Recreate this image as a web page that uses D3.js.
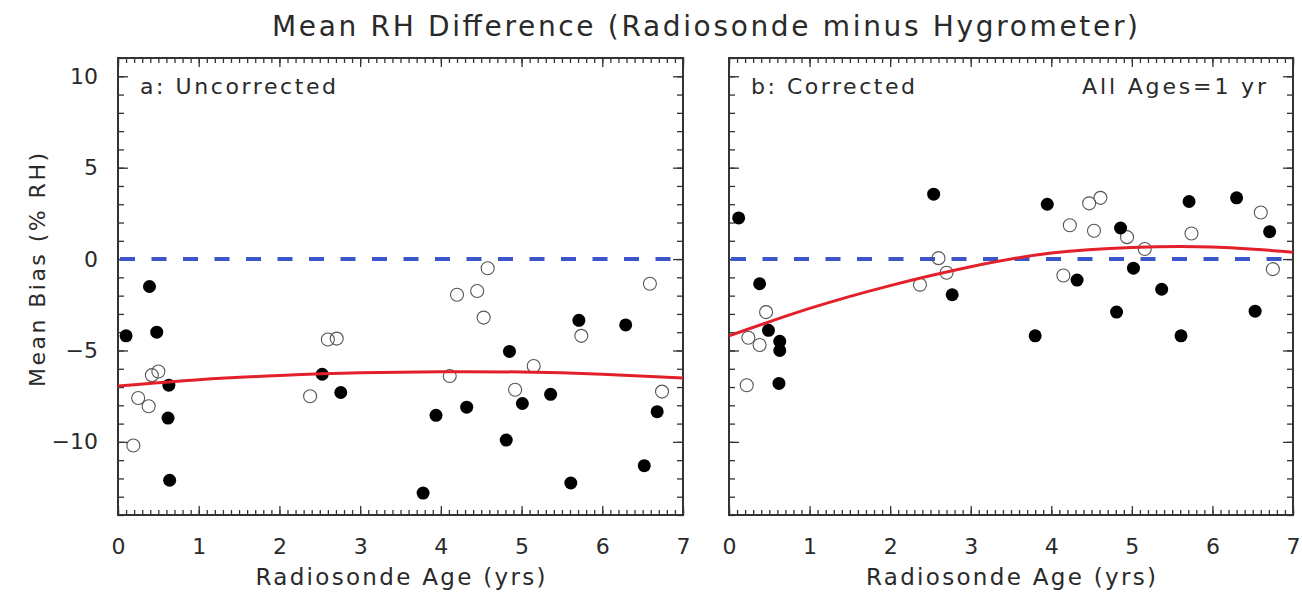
<!DOCTYPE html>
<html>
<head>
<meta charset="utf-8">
<script src="https://cdn.jsdelivr.net/npm/d3@7"></script>
<style>
  body { margin: 0; background: #fff; }
  svg text { font-family: "DejaVu Sans", sans-serif; fill: #2a2a2a; }
</style>
</head>
<body>
<svg id="chart" width="1302" height="594"></svg>
<script>
// tick labels
const ageTicks = [0, 1, 2, 3, 4, 5, 6, 7];
const biasTicks = [-10, -5, 0, 5, 10];

// panel a: uncorrected, filled symbols
const rawFilledAge  = [0.10, 0.39, 0.48, 0.63, 0.62, 0.64, 2.53, 2.76, 3.78, 3.94, 4.32, 4.81, 4.85, 5.01, 5.36, 5.61, 5.71, 6.29, 6.52, 6.68];
const rawFilledBias = [-4.2, -1.5, -4.0, -6.9, -8.7, -12.1, -6.3, -7.3, -12.8, -8.55, -8.1, -9.9, -5.05, -7.9, -7.4, -12.25, -3.35, -3.6, -11.3, -8.35];
// panel a: uncorrected, open symbols
const rawOpenAge  = [0.19, 0.25, 0.38, 0.42, 0.50, 2.38, 2.60, 2.71, 4.11, 4.20, 4.45, 4.53, 4.58, 4.92, 5.15, 5.74, 6.59, 6.74];
const rawOpenBias = [-10.2, -7.6, -8.05, -6.35, -6.15, -7.5, -4.4, -4.35, -6.4, -1.95, -1.75, -3.2, -0.5, -7.15, -5.85, -4.2, -1.35, -7.25];

// panel b: corrected, filled symbols
const corrFilledAge  = [0.12, 0.38, 0.49, 0.63, 0.63, 0.62, 2.54, 2.77, 3.80, 3.95, 4.32, 4.81, 4.86, 5.02, 5.37, 5.61, 5.71, 6.30, 6.53, 6.71];
const corrFilledBias = [2.25, -1.35, -3.9, -4.5, -5.0, -6.8, 3.55, -1.95, -4.2, 3.0, -1.15, -2.9, 1.7, -0.5, -1.65, -4.2, 3.15, 3.35, -2.85, 1.5];
// panel b: corrected, open symbols
const corrOpenAge  = [0.22, 0.24, 0.38, 0.46, 2.37, 2.60, 2.70, 4.15, 4.23, 4.47, 4.61, 4.53, 4.94, 5.16, 5.74, 6.60, 6.75];
const corrOpenBias = [-6.9, -4.3, -4.7, -2.9, -1.4, 0.05, -0.75, -0.9, 1.85, 3.05, 3.35, 1.55, 1.2, 0.55, 1.4, 2.55, -0.55];

// fitted curves
const fitAge  = [0, 1, 2, 3, 4, 5, 6, 7];
const rawFit  = [-6.95, -6.6, -6.37, -6.22, -6.16, -6.18, -6.3, -6.5];
const corrFit = [-4.2, -2.7, -1.45, -0.42, 0.33, 0.64, 0.66, 0.38];

const svg = d3.select('#chart');

const y = d3.scaleLinear().domain([-14, 11]).range([515, 58]);

const panels = [
    {x0: 118, x1: 683, label: 'a: Uncorrected', labelLen: 196, yLabels: true,
     filled: rawFilledAge.map((a, i) => [a, rawFilledBias[i]]),
     open: rawOpenAge.map((a, i) => [a, rawOpenBias[i]]),
     fit: fitAge.map((a, i) => [a, rawFit[i]])},
    {x0: 729, x1: 1293, label: 'b: Corrected', labelLen: 164, yLabels: false,
     filled: corrFilledAge.map((a, i) => [a, corrFilledBias[i]]),
     open: corrOpenAge.map((a, i) => [a, corrOpenBias[i]]),
     fit: fitAge.map((a, i) => [a, corrFit[i]])}
];

const minorX = d3.range(0, 70.5, 1).map(d => d / 10);
const minorY = d3.range(-14, 11.5, 1);

panels.forEach(p => {
    const x = d3.scaleLinear().domain([0, 7]).range([p.x0, p.x1]);
    const g = svg.append('g');
    const bottom = y.range()[0], top = y.range()[1];

    const tickStyle = sel => sel.call(s => s.select('.domain').remove())
        .call(s => s.selectAll('line').attr('stroke', '#333').attr('stroke-width', 1.3));

    // minor ticks all round
    g.append('g').attr('transform', `translate(0,${bottom})`)
        .call(d3.axisBottom(x).tickValues(minorX).tickSize(-5).tickFormat(''))
        .call(tickStyle);
    g.append('g').attr('transform', `translate(0,${top})`)
        .call(d3.axisTop(x).tickValues(minorX).tickSize(-5).tickFormat(''))
        .call(tickStyle);
    g.append('g').attr('transform', `translate(${p.x0},0)`)
        .call(d3.axisLeft(y).tickValues(minorY).tickSize(-6).tickFormat(''))
        .call(tickStyle);
    g.append('g').attr('transform', `translate(${p.x1},0)`)
        .call(d3.axisRight(y).tickValues(minorY).tickSize(-6).tickFormat(''))
        .call(tickStyle);

    // major ticks + labels
    const xb = g.append('g').attr('transform', `translate(0,${bottom})`)
        .call(d3.axisBottom(x).tickValues(ageTicks).tickSize(-9).tickPadding(23).tickFormat(d3.format('d')))
        .call(tickStyle);
    xb.selectAll('text').attr('font-size', 22).attr('fill', '#333');
    g.append('g').attr('transform', `translate(0,${top})`)
        .call(d3.axisTop(x).tickValues(ageTicks).tickSize(-9).tickFormat(''))
        .call(tickStyle);
    const yl = g.append('g').attr('transform', `translate(${p.x0},0)`)
        .call(d3.axisLeft(y).tickValues(biasTicks).tickSize(-10).tickPadding(20)
            .tickFormat(p.yLabels ? (d => d < 0 ? '\u2212' + Math.abs(d) : d) : ''))
        .call(tickStyle);
    yl.selectAll('text').attr('font-size', 22).attr('fill', '#333');
    g.append('g').attr('transform', `translate(${p.x1},0)`)
        .call(d3.axisRight(y).tickValues(biasTicks).tickSize(-10).tickFormat(''))
        .call(tickStyle);

    // frame
    g.append('rect')
        .attr('x', p.x0).attr('y', top)
        .attr('width', p.x1 - p.x0).attr('height', bottom - top)
        .attr('fill', 'none').attr('stroke', '#333').attr('stroke-width', 2);

    // zero line
    g.append('line')
        .attr('x1', p.x0 + 2).attr('x2', p.x1 - 2)
        .attr('y1', y(0)).attr('y2', y(0))
        .attr('stroke', '#3a56c8').attr('stroke-width', 4)
        .attr('stroke-dasharray', '15,16.5');

    // points
    g.selectAll('circle.open')
        .data(p.open)
        .join('circle')
        .attr('class', 'open')
        .attr('cx', d => x(d[0])).attr('cy', d => y(d[1]))
        .attr('r', 6.5)
        .attr('fill', 'none').attr('stroke', '#555').attr('stroke-width', 1.1);

    g.selectAll('circle.filled')
        .data(p.filled)
        .join('circle')
        .attr('class', 'filled')
        .attr('cx', d => x(d[0])).attr('cy', d => y(d[1]))
        .attr('r', 6.5)
        .attr('fill', '#000');

    // fit curve
    g.append('path')
        .datum(p.fit)
        .attr('d', d3.line().x(d => x(d[0])).y(d => y(d[1])).curve(d3.curveNatural))
        .attr('fill', 'none').attr('stroke', '#e3202a').attr('stroke-width', 3);

    // panel label
    g.append('text')
        .attr('x', p.x0 + 22).attr('y', 94)
        .attr('font-size', 22)
        .attr('textLength', p.labelLen)
        .text(p.label);

    // x axis title
    g.append('text')
        .attr('x', (p.x0 + p.x1) / 2).attr('y', 585)
        .attr('text-anchor', 'middle')
        .attr('font-size', 23)
        .attr('textLength', 290)
        .text('Radiosonde Age (yrs)');
});

svg.append('text')
    .attr('x', 1266).attr('y', 94)
    .attr('text-anchor', 'end')
    .attr('font-size', 22)
    .attr('textLength', 184)
    .text('All Ages=1 yr');

svg.append('text')
    .attr('transform', 'translate(45,270) rotate(-90)')
    .attr('text-anchor', 'middle')
    .attr('font-size', 22)
    .attr('textLength', 234)
    .text('Mean Bias (% RH)');

svg.append('text')
    .attr('x', 705).attr('y', 36)
    .attr('text-anchor', 'middle')
    .attr('font-size', 28)
    .attr('textLength', 866)
    .text('Mean RH Difference (Radiosonde minus Hygrometer)');
</script>
</body>
</html>
